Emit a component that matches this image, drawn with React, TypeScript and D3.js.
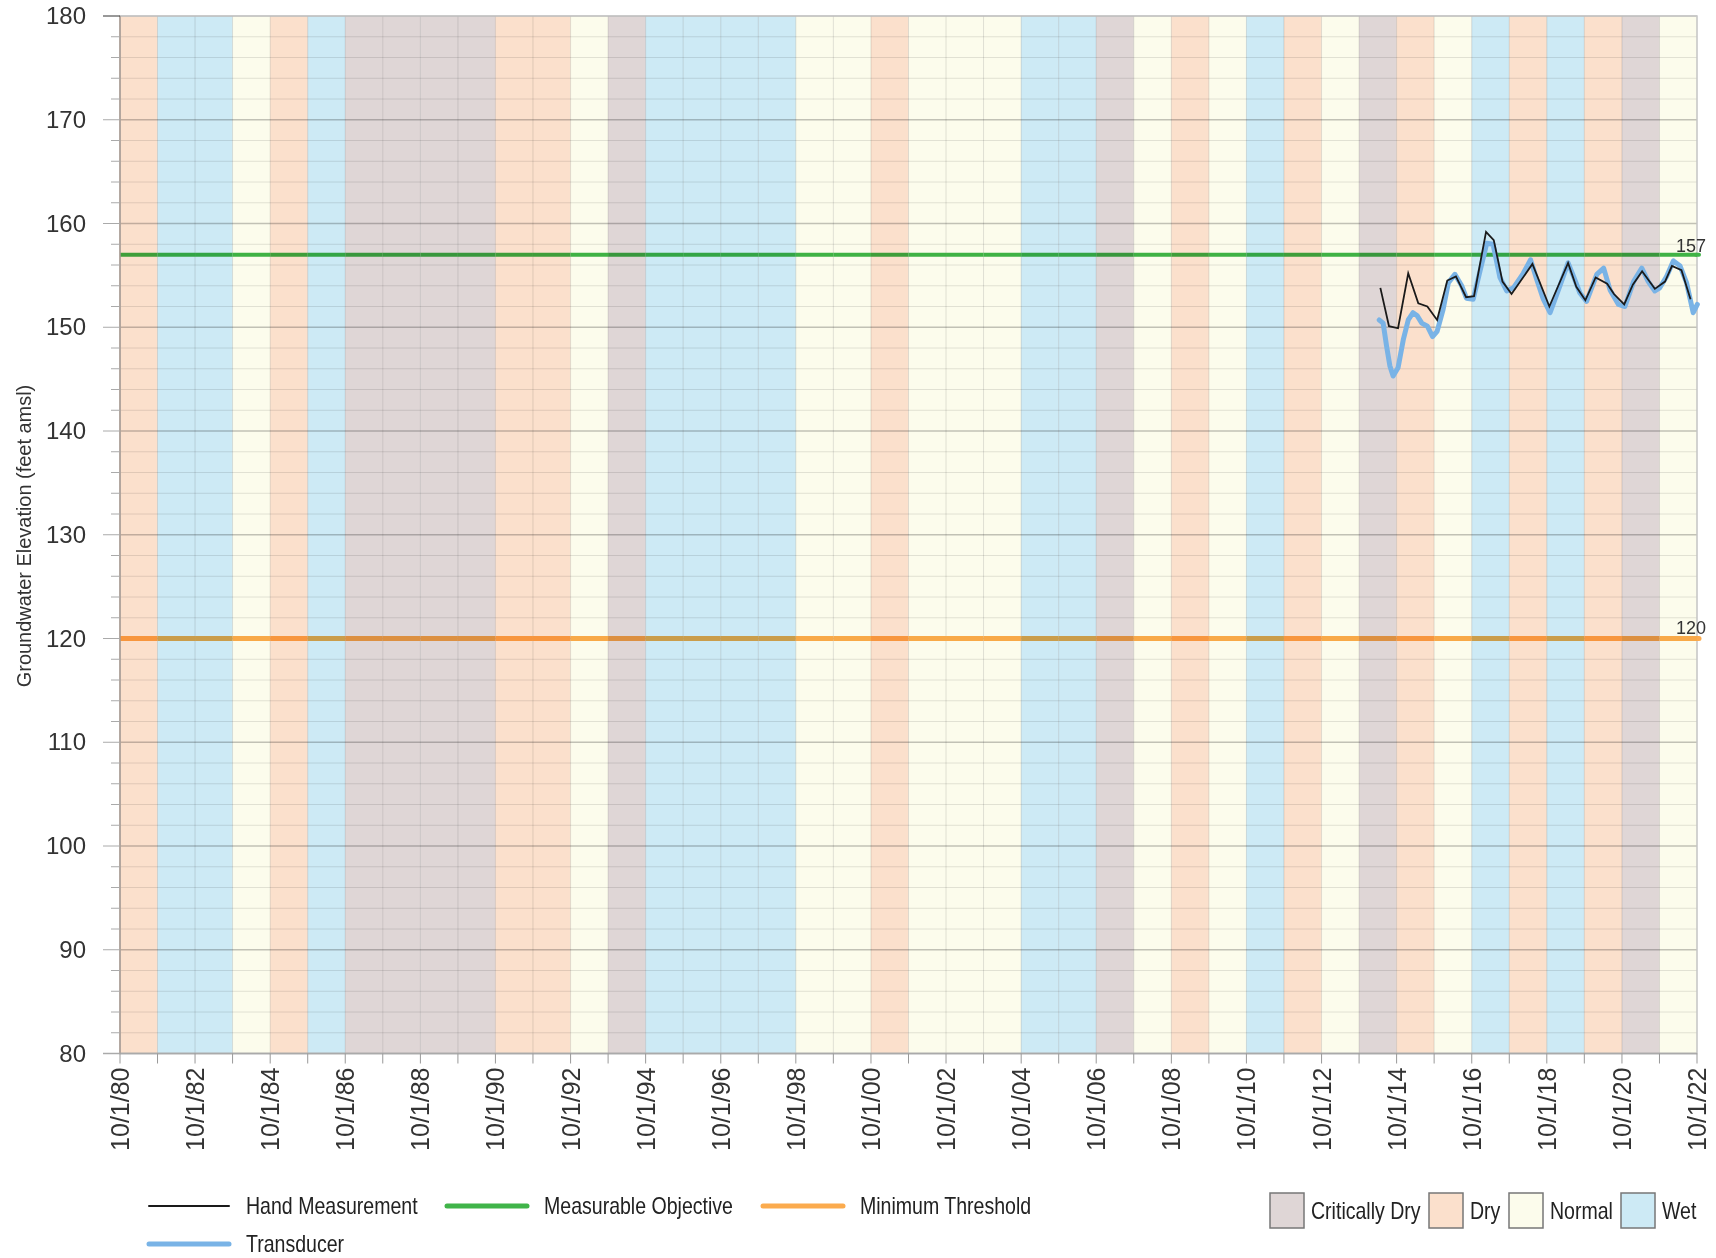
import React from 'react';
import * as d3 from 'd3';

// water year types, WY1981 .. WY2022 (band from 10/1 of previous year)
const yearTypes = [
  'D', 'W', 'W', 'N', 'D', 'W', 'C', 'C', 'C', 'C',
  'D', 'D', 'N', 'C', 'W', 'W', 'W', 'W', 'N', 'N',
  'D', 'N', 'N', 'N', 'W', 'W', 'C', 'N', 'D', 'N',
  'W', 'D', 'N', 'C', 'D', 'N', 'W', 'D', 'W', 'D',
  'C', 'N',
];
const firstWaterYear = 1981;

const typeNames: Record<string, string> = { C: 'Critically Dry', D: 'Dry', N: 'Normal', W: 'Wet' };
const typeColors: Record<string, string> = { C: '#dfd6d6', D: '#fbe0cc', N: '#fcfcec', W: '#cdeaf5' };
const typeOrder = ['C', 'D', 'N', 'W'];

const handDates = [
  '2014-04-26', '2014-07-19', '2014-10-15', '2015-01-22', '2015-04-30', '2015-07-27',
  '2015-10-30', '2016-02-06', '2016-04-30', '2016-08-07', '2016-10-23', '2017-02-17',
  '2017-05-03', '2017-07-27', '2017-10-23', '2018-05-14', '2018-10-26', '2019-04-26',
  '2019-07-15', '2019-10-11', '2020-01-19', '2020-05-10', '2020-07-15', '2020-10-23',
  '2021-01-15', '2021-04-15', '2021-08-17', '2021-11-24', '2022-01-30', '2022-05-03',
  '2022-07-30',
];
const handValues = [
  153.8, 150.1, 149.9, 155.2, 152.3, 152.0,
  150.7, 154.5, 154.9, 152.9, 153.0, 159.2,
  158.4, 154.4, 153.2, 156.1, 152.0, 156.2,
  153.9, 152.6, 154.8, 154.2, 153.2, 152.2,
  154.1, 155.4, 153.7, 154.4, 155.9, 155.5,
  152.7,
];

const transducerDates = [
  '2014-04-15', '2014-05-23', '2014-06-25', '2014-07-27', '2014-08-28', '2014-10-15',
  '2014-12-05', '2015-01-22', '2015-03-10', '2015-04-20', '2015-06-03', '2015-07-27',
  '2015-09-16', '2015-10-30', '2015-12-27', '2016-02-17', '2016-04-20', '2016-06-25',
  '2016-08-10', '2016-10-15', '2016-12-20', '2017-02-24', '2017-04-26', '2017-07-02',
  '2017-09-06', '2017-11-10', '2018-02-14', '2018-04-26', '2018-06-25', '2018-08-28',
  '2018-11-02', '2019-02-06', '2019-04-26', '2019-06-18', '2019-08-19', '2019-10-23',
  '2020-01-30', '2020-04-06', '2020-06-07', '2020-08-28', '2020-10-30', '2021-01-22',
  '2021-04-12', '2021-06-14', '2021-08-17', '2021-10-04', '2021-12-09', '2022-02-14',
  '2022-04-20', '2022-06-21', '2022-08-25', '2022-10-04',
];
const transducerValues = [
  150.7, 150.4, 148.2, 146.3, 145.3, 146.1,
  148.8, 150.7, 151.4, 151.1, 150.4, 150.1,
  149.1, 149.6, 151.7, 154.3, 155.1, 154.0,
  152.8, 152.7, 155.4, 158.1, 158.0, 154.8,
  153.5, 153.8, 155.2, 156.5, 154.6, 152.7,
  151.4, 154.0, 156.2, 154.9, 153.3, 152.5,
  155.1, 155.7, 153.6, 152.2, 152.0, 154.4,
  155.7, 154.4, 153.5, 153.8, 154.9, 156.4,
  155.9, 154.3, 151.4, 152.2,
];

const measurableObjective = 157;
const minimumThreshold = 120;
const yTicks = [80, 90, 100, 110, 120, 130, 140, 150, 160, 170, 180];

const W = 1716;
const H = 1258;
const left = 120;
const right = 1697;
const top = 16;
const bottom = 1053.5;

const font = '"Liberation Sans", Arial, sans-serif';
const squeeze = 0.85; // legend font looks condensed

const greenColor = '#40b449';
const orangeColor = '#fbab4e';

// multiply blend of a line colour with the band colour under it
function multiply(a: string, b: string) {
  const ca = d3.rgb(a);
  const cb = d3.rgb(b);
  return d3.rgb((ca.r * cb.r) / 255, (ca.g * cb.g) / 255, (ca.b * cb.b) / 255).formatHex();
}

export default function App() {
  const parse = d3.timeParse('%Y-%m-%d');
  const start = new Date(1980, 9, 1);
  const end = new Date(2022, 9, 1);
  const x = d3.scaleTime().domain([start, end]).range([left, right]);
  const y = d3.scaleLinear().domain([80, 180]).range([bottom, top]);

  const yearStarts = d3.range(1980, 2023).map(yr => new Date(yr, 9, 1));
  const labelYears = yearStarts.filter(d => (d.getFullYear() - 1980) % 2 === 0);
  const minorY = d3.range(80, 181, 2);

  const bands = yearTypes.map((t, i) => ({
    type: t,
    s: new Date(firstWaterYear - 1 + i, 9, 1),
    e: new Date(firstWaterYear + i, 9, 1),
  }));

  const hand = handDates.map((d, i) => ({ date: parse(d) as Date, value: handValues[i] }));
  const trans = transducerDates.map((d, i) => ({ date: parse(d) as Date, value: transducerValues[i] }));
  const line = d3.line<{ date: Date; value: number }>().x(d => x(d.date)).y(d => y(d.value));

  const fmt = (d: Date) => `10/1/${String(d.getFullYear() % 100).padStart(2, '0')}`;
  const mult: React.CSSProperties = { mixBlendMode: 'multiply' };

  const thresholdLine = (value: number, color: string, width: number, key: string) => (
    <g key={key}>
      <line x1={right - 1} x2={right + 2} y1={y(value)} y2={y(value)} stroke={color} strokeWidth={width} strokeLinecap="round" />
      {bands.map((b, i) => (
        <line key={i} x1={x(b.s)} x2={x(b.e)} y1={y(value)} y2={y(value)}
          stroke={multiply(color, typeColors[b.type])} strokeWidth={width} />
      ))}
    </g>
  );

  // legend rows
  const lineLegend = [
    { label: 'Hand Measurement', color: '#1a1a1a', width: 2, x0: 149, row: 0 },
    { label: 'Measurable Objective', color: greenColor, width: 5, x0: 447, row: 0 },
    { label: 'Minimum Threshold', color: orangeColor, width: 5, x0: 763, row: 0 },
    { label: 'Transducer', color: '#79b3e6', width: 5, x0: 149, row: 1 },
  ];
  const boxX: Record<string, number> = { C: 1270, D: 1429, N: 1509, W: 1621 };

  return (
    <svg width={W} height={H} style={{ display: 'block', position: 'absolute', left: 0, top: 0, background: '#fff' }}>
      {/* water year type bands */}
      {bands.map((b, i) => (
        <rect key={i} x={x(b.s)} y={top} width={x(b.e) - x(b.s)} height={bottom - top} fill={typeColors[b.type]} />
      ))}

      {/* grid */}
      {minorY.map(v => (
        <line key={'my' + v} x1={left} x2={right} y1={y(v)} y2={y(v)}
          stroke={v % 10 === 0 ? '#c4c4c4' : '#e4e4e4'} strokeWidth={v % 10 === 0 ? 1.5 : 1} style={mult} />
      ))}
      {yearStarts.map((d, i) => (
        <line key={'vx' + i} x1={x(d)} x2={x(d)} y1={top} y2={bottom} stroke="#e2e2e2" strokeWidth={1} style={mult} />
      ))}
      <rect x={left} y={top} width={right - left} height={bottom - top} fill="none" stroke="#c8c8c8" strokeWidth={1.5} />

      {/* threshold lines */}
      {thresholdLine(minimumThreshold, orangeColor, 5, 'mt')}
      {thresholdLine(measurableObjective, greenColor, 4, 'mo')}
      <text x={1706} y={y(measurableObjective) - 3} textAnchor="end" fontFamily={font} fontSize={18} fill="#333">{measurableObjective}</text>
      <text x={1706} y={y(minimumThreshold) - 5} textAnchor="end" fontFamily={font} fontSize={18} fill="#333">{minimumThreshold}</text>

      {/* series */}
      <path d={line(trans) || ''} fill="none" stroke="#79b3e6" strokeWidth={5} strokeLinejoin="round" strokeLinecap="round" />
      <path d={line(hand) || ''} fill="none" stroke="#1a1a1a" strokeWidth={1.8} strokeLinejoin="miter" />

      {/* y axis */}
      <line x1={left} x2={left} y1={top} y2={bottom} stroke="#a89a90" strokeWidth={1.5} />
      {minorY.map(v => (
        <line key={'yt' + v} x1={v % 10 === 0 ? 103 : 111} x2={left} y1={y(v)} y2={y(v)}
          stroke={v === 180 ? '#333' : '#aaa'} strokeWidth={1} />
      ))}
      {yTicks.map(v => (
        <text key={'yl' + v} x={86} y={y(v) + 8} textAnchor="end" fontFamily={font} fontSize={24} fill="#333">{v}</text>
      ))}
      <text transform={`translate(31,536) rotate(-90) scale(0.95,1)`} textAnchor="middle" fontFamily={font} fontSize={21} fill="#333">
        Groundwater Elevation (feet amsl)
      </text>

      {/* x axis */}
      <line x1={103} x2={right} y1={bottom} y2={bottom} stroke="#aaa" strokeWidth={1.5} />
      {yearStarts.map((d, i) => (
        <line key={'xt' + i} x1={x(d)} x2={x(d)} y1={bottom} y2={bottom + 10} stroke="#999" strokeWidth={1} />
      ))}
      {labelYears.map((d, i) => (
        <text key={'xl' + i} transform={`translate(${x(d) + 9},${bottom + 14}) rotate(-90)`} textAnchor="end"
          fontFamily={font} fontSize={25} fill="#333">{fmt(d)}</text>
      ))}

      {/* legend */}
      {lineLegend.map(l => {
        const ly = 1206 + l.row * 38;
        return (
          <g key={l.label}>
            <line x1={l.x0} x2={l.x0 + 80} y1={ly} y2={ly} stroke={l.color} strokeWidth={l.width} strokeLinecap="round" />
            <text transform={`translate(${l.x0 + 97},${ly + 8}) scale(${squeeze},1)`} fontFamily={font} fontSize={23} fill="#222">{l.label}</text>
          </g>
        );
      })}
      {typeOrder.map(t => (
        <g key={t}>
          <rect x={boxX[t]} y={1193} width={34} height={35} fill={typeColors[t]} stroke="#777" strokeWidth={1.5} />
          <text transform={`translate(${boxX[t] + 41},1219) scale(${squeeze},1)`} fontFamily={font} fontSize={23} fill="#222">{typeNames[t]}</text>
        </g>
      ))}
    </svg>
  );
}
